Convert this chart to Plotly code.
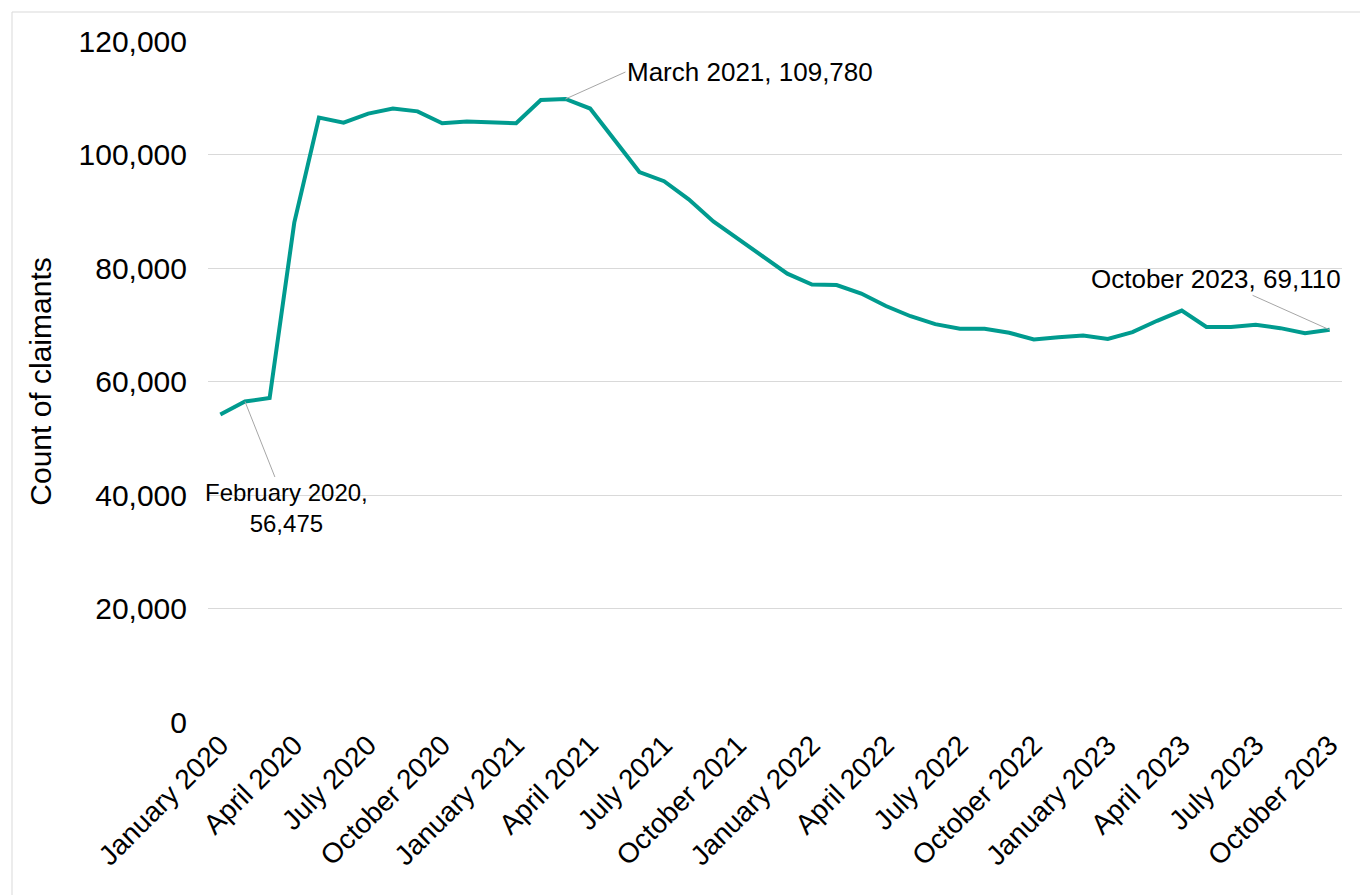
import plotly.graph_objects as go

months = ["January", "February", "March", "April", "May", "June", "July",
          "August", "September", "October", "November", "December"]
categories = []
for yr in [2020, 2021, 2022, 2023]:
    for m in months:
        categories.append(f"{m} {yr}")
categories = categories[:46]

claimants = [54200, 56475, 57100, 88000, 106500, 105600, 107200, 108100, 107600, 105500,
             105800, 105600, 105500, 109600, 109780, 108100, 102600, 96900, 95300, 92100,
             88200, 85100, 81900, 79000, 77100, 77000, 75500, 73300, 71500, 70100,
             69300, 69300, 68600, 67400, 67800, 68100, 67500, 68700, 70700, 72500,
             69600, 69600, 70000, 69400, 68500, 69110]

tick_labels = categories[::3]
y_ticks = [0, 20000, 40000, 60000, 80000, 100000, 120000]

font = "Liberation Sans, Arial, sans-serif"

fig = go.Figure()
fig.add_trace(go.Scatter(x=categories, y=claimants, mode="lines",
                         line=dict(color="#009B8F", width=4), hoverinfo="x+y"))

ann_style = dict(showarrow=True, arrowhead=0, arrowwidth=1, arrowcolor="#A6A6A6",
                 font=dict(family=font, size=26, color="#000000"), xref="x", yref="y",
                 axref="pixel", ayref="pixel")
fig.add_annotation(x=categories[1], y=claimants[1], text="February 2020,<br>56,475",
                   ax=42, ay=106, align="center", **dict(ann_style, font=dict(family=font, size=24, color="#000000")))
fig.add_annotation(x=categories[14], y=claimants[14], text="March 2021, 109,780",
                   ax=60, ay=-27, xanchor="left", **ann_style)
fig.add_annotation(x=categories[45], y=claimants[45], text="October 2023, 69,110",
                   ax=-114, ay=-51, **ann_style)

fig.update_layout(
    width=1360, height=895,
    margin=dict(l=208, r=18, t=41, b=173),
    paper_bgcolor="white", plot_bgcolor="white",
    showlegend=False,
    font=dict(family=font, color="#000000"),
    shapes=[dict(type="rect", xref="paper", yref="paper",
                 x0=(12 - 208) / 1134, x1=(1365 - 208) / 1134,
                 y0=-(900 - 722) / 681, y1=1 + (41 - 12) / 681,
                 line=dict(color="#D9D9D9", width=1), fillcolor="rgba(0,0,0,0)", layer="below")],
)
fig.update_xaxes(type="category", tickmode="array", tickvals=tick_labels, ticktext=tick_labels,
                 tickangle=-45, tickfont=dict(size=28, family=font), showgrid=False,
                 showline=False, ticks="", range=[-0.5, 45.5])
fig.update_yaxes(range=[0, 120000], tickvals=y_ticks, tickformat=",",
                 tickfont=dict(size=30, family=font), showgrid=True, gridcolor="#D9D9D9",
                 gridwidth=1, zeroline=False, showline=False, ticks="", ticklen=0,
                 ticklabelstandoff=20,
                 title=dict(text="Count of claimants", font=dict(size=30, family=font), standoff=18))

fig.write_html("out.html")
